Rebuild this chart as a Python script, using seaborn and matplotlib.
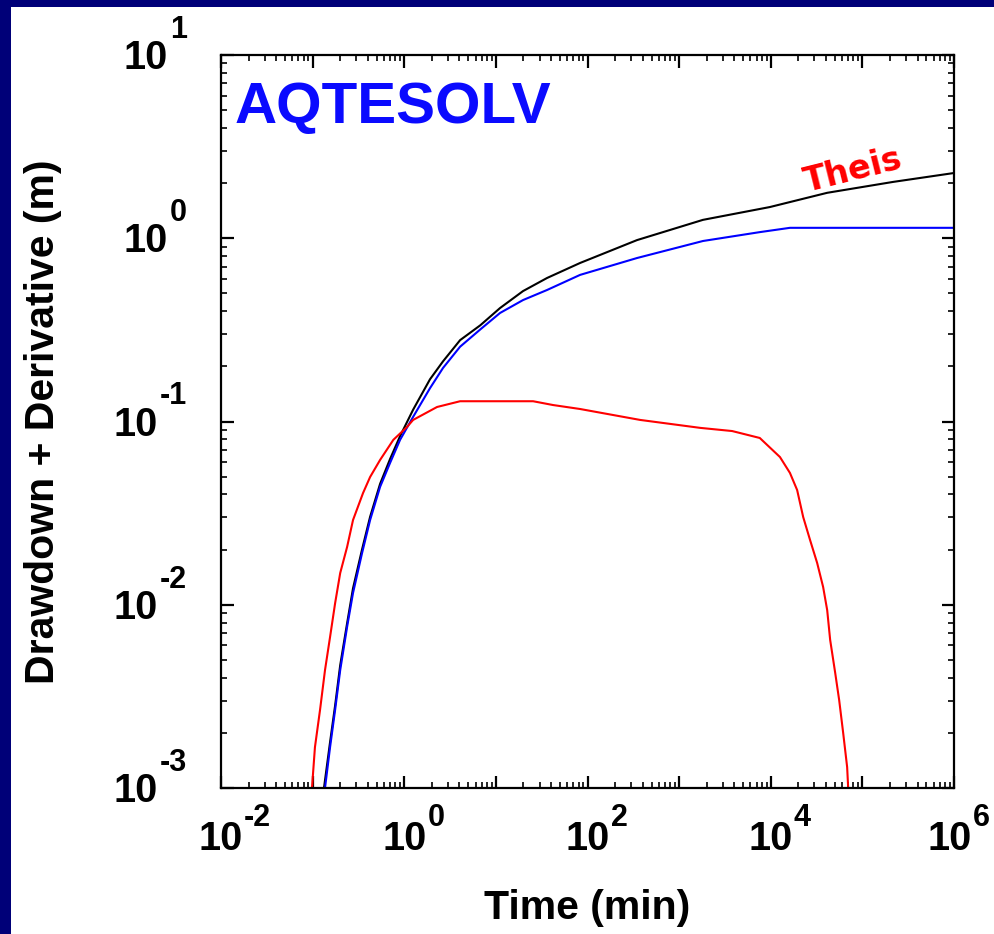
import numpy as np
import matplotlib
matplotlib.use("Agg")
import matplotlib.pyplot as plt
import matplotlib.ticker as mticker
from matplotlib.transforms import ScaledTranslation, blended_transform_factory
from matplotlib.patches import Rectangle
import seaborn as sns

# values: time in min, drawdown / derivative in m
theis_t = [0.133, 0.155, 0.176, 0.20, 0.238, 0.276, 0.346, 0.424, 0.545, 0.70, 0.90,
           1.25, 1.91, 2.65, 4.07, 6.76, 11.1, 19.8, 36.2, 83.0, 347.0, 1820.0,
           9770.0, 41300.0, 216800.0, 1.0e6]
theis_s = [0.001, 0.00178, 0.00282, 0.00468, 0.00794, 0.0123, 0.020, 0.0302, 0.0457,
           0.0624, 0.0832, 0.116, 0.170, 0.213, 0.278, 0.335, 0.416, 0.515, 0.607,
           0.733, 0.977, 1.26, 1.48, 1.77, 2.03, 2.27]

leaky_t = [0.1365, 0.155, 0.176, 0.20, 0.238, 0.276, 0.346, 0.424, 0.545, 0.70, 0.90,
           1.25, 1.91, 2.65, 4.07, 6.76, 11.1, 19.8, 36.2, 83.0, 347.0, 1820.0,
           7590.0, 16200.0, 1.0e6]
leaky_s = [0.001, 0.00167, 0.00267, 0.0044, 0.00759, 0.0116, 0.0191, 0.029, 0.044,
           0.0594, 0.0794, 0.106, 0.152, 0.196, 0.256, 0.318, 0.391, 0.46, 0.522,
           0.631, 0.78, 0.966, 1.08, 1.14, 1.14]

deriv_t = [0.0984, 0.106, 0.1205, 0.1365, 0.155, 0.176, 0.20, 0.238, 0.276, 0.355,
           0.424, 0.545, 0.76, 1.07, 1.25, 2.28, 4.07, 25.5, 42.0, 83.0, 375.0,
           1700.0, 3790.0, 7590.0, 12600.0, 16200.0, 19400.0, 22600.0, 26900.0,
           32100.0, 37300.0, 41300.0, 44500.0, 50500.0, 55800.0, 61700.0, 68200.0,
           70000.0]
deriv_s = [0.001, 0.00167, 0.00267, 0.0044, 0.00667, 0.0102, 0.0149, 0.0207, 0.029,
           0.0407, 0.0498, 0.0617, 0.0794, 0.0933, 0.102, 0.12, 0.129, 0.129, 0.123,
           0.117, 0.102, 0.0923, 0.0887, 0.0813, 0.064, 0.0524, 0.0423, 0.0301,
           0.0225, 0.0169, 0.0125, 0.00935, 0.00643, 0.00425, 0.00302, 0.002,
           0.0013, 0.001]

x_label_exps = [-2, 0, 2, 4, 6]
y_label_exps = [-3, -2, -1, 0, 1]
x_lim = (1e-2, 1e6)
y_lim = (1e-3, 1e1)

sns.set_style("ticks")
plt.rcParams['font.family'] = ['Liberation Sans', 'DejaVu Sans']
plt.rcParams['text.color'] = 'black'
plt.rcParams['axes.labelcolor'] = 'black'

fig = plt.figure(figsize=(9.94, 9.34), dpi=100, facecolor='white')
navy = '#000078'
fig.add_artist(Rectangle((0, 0), 11 / 994, 1, transform=fig.transFigure,
                         facecolor=navy, edgecolor='none', zorder=0))
fig.add_artist(Rectangle((0, 1 - 7 / 934), 1, 7 / 934, transform=fig.transFigure,
                         facecolor=navy, edgecolor='none', zorder=0))

ax = fig.add_axes([221 / 994, 146 / 934, 733 / 994, 733 / 934])

sns.lineplot(x=theis_t, y=theis_s, color='black', linewidth=1.5, estimator=None, ax=ax)
sns.lineplot(x=leaky_t, y=leaky_s, color='#0000ff', linewidth=1.5, estimator=None, ax=ax)
sns.lineplot(x=deriv_t, y=deriv_s, color='#ff0000', linewidth=1.5, estimator=None, ax=ax)

ax.set_xscale('log')
ax.set_yscale('log')
ax.set_xlim(*x_lim)
ax.set_ylim(*y_lim)

for s in ax.spines.values():
    s.set_visible(True)
    s.set_linewidth(1.6)
    s.set_color('black')

ax.xaxis.set_major_locator(mticker.LogLocator(base=10, numticks=20))
ax.yaxis.set_major_locator(mticker.LogLocator(base=10, numticks=20))
ax.xaxis.set_minor_locator(mticker.LogLocator(base=10, subs=np.arange(2, 10), numticks=50))
ax.yaxis.set_minor_locator(mticker.LogLocator(base=10, subs=np.arange(2, 10), numticks=50))
ax.xaxis.set_major_formatter(mticker.NullFormatter())
ax.yaxis.set_major_formatter(mticker.NullFormatter())
ax.xaxis.set_minor_formatter(mticker.NullFormatter())
ax.yaxis.set_minor_formatter(mticker.NullFormatter())

ax.tick_params(which='both', direction='in', top=True, right=True, colors='black')
ax.tick_params(which='major', length=9, width=1.6)
ax.tick_params(which='minor', length=4.5, width=1.2)


def px(dx, dy):
    return ScaledTranslation(dx / 100, dy / 100, fig.dpi_scale_trans)


# decade labels drawn as "10" plus a raised exponent, like the original program
base_size, exp_size = 28.5, 22
renderer = fig.canvas.get_renderer()
xtr = blended_transform_factory(ax.transData, ax.transAxes)
for e in x_label_exps:
    shift = -4 if e == x_label_exps[-1] else 0
    b = ax.text(10.0 ** e, 0, '10', transform=xtr + px(shift, -62), ha='center',
                va='baseline', fontsize=base_size, fontweight='bold', clip_on=False)
    bb = b.get_window_extent(renderer)
    fig.text((bb.x1 + 1) / fig.bbox.width, (bb.y0 + 32) / fig.bbox.height, str(e),
             ha='left', va='baseline', fontsize=exp_size, fontweight='bold')

ytr = blended_transform_factory(ax.transAxes, ax.transData)
for e in y_label_exps:
    x_ = ax.text(0, 10.0 ** e, str(e), transform=ytr + px(-34, 17), ha='right',
                 va='baseline', fontsize=exp_size, fontweight='bold', clip_on=False)
    bb = x_.get_window_extent(renderer)
    ax.text(0, 10.0 ** e, '10', transform=ytr + px(-34 - bb.width - 2, -14), ha='right',
            va='baseline', fontsize=base_size, fontweight='bold', clip_on=False)

ax.set_xlabel('Time (min)', fontsize=29.5, fontweight='bold')
ax.set_ylabel('Drawdown + Derivative (m)', fontsize=29.5, fontweight='bold')
ax.xaxis.set_label_coords(0.5, -0.138)
ax.yaxis.set_label_coords((62 - 221) / 733, 0.5)

ax.text(0.019, 0.928, 'AQTESOLV', transform=ax.transAxes, ha='left', va='center',
        color='#0a0aff', fontsize=42, fontweight='bold', family='Liberation Sans')
ax.text(8.0e4, 2.35, 'Theis', ha='center', va='center', rotation=14,
        rotation_mode='anchor', color='#ff0000', fontsize=24, fontweight='bold',
        family='DejaVu Sans')

fig.savefig('out.png', dpi=100, facecolor=fig.get_facecolor())
